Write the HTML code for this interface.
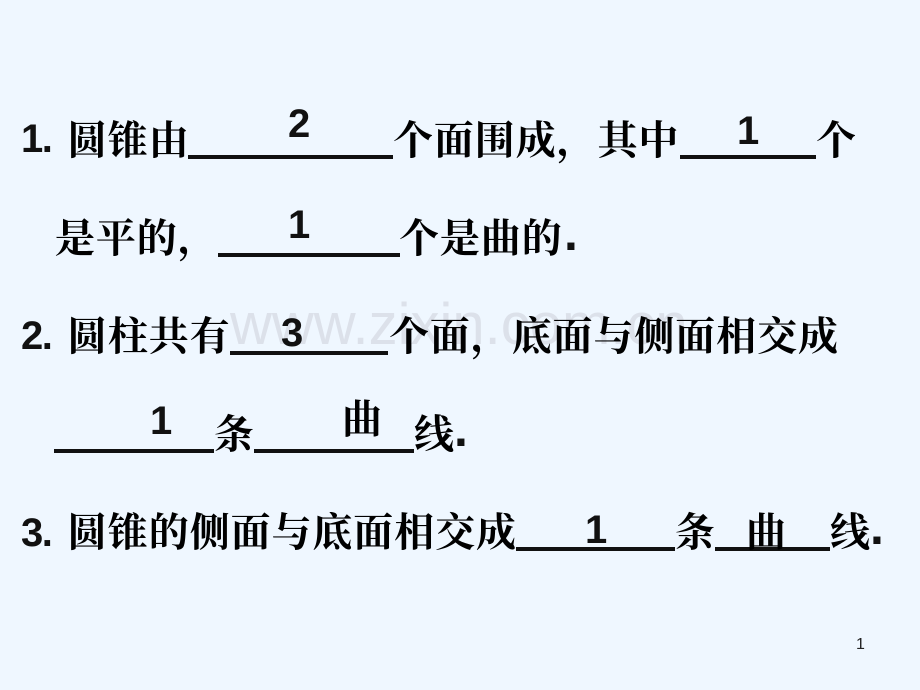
<!DOCTYPE html>
<html><head><meta charset="utf-8">
<style>
html,body{margin:0;padding:0}
#s{position:relative;width:920px;height:690px;background:#eff7ff;overflow:hidden}
.c{position:absolute;font:700 40px/40px "Noto Serif CJK SC",serif;color:#000;white-space:nowrap;letter-spacing:.9px}
.b{position:absolute;font:bold 40px/40px "Liberation Sans",sans-serif;color:#111;white-space:nowrap}
.p{letter-spacing:-1.5px}
.d{font-size:50px}
.l{position:absolute;height:4px;background:#111}
#w{position:absolute;left:230px;top:296px;font:58px/58px "Liberation Sans",sans-serif;color:#dce1ea;white-space:nowrap}
#n{position:absolute;left:856px;top:636px;font:16px/18px "Liberation Sans",sans-serif;color:#222}
</style></head><body><div id="s">
<div id="w">www.zixin.com.cn</div>

<div class="b p" style="left:21px;top:119px">1.</div>
<div class="c" style="left:67px;top:118px">圆锥由</div>
<div class="l" style="left:188px;top:155px;width:205px"></div>
<div class="b" style="left:288px;top:104px">2</div>
<div class="c" style="left:393px;top:118px">个面围成，其中</div>
<div class="l" style="left:680px;top:155px;width:136px"></div>
<div class="b" style="left:737px;top:111px">1</div>
<div class="c" style="left:816px;top:118px">个</div>

<div class="c" style="left:55px;top:216px">是平的，</div>
<div class="l" style="left:218px;top:253px;width:182px"></div>
<div class="b" style="left:288px;top:205px">1</div>
<div class="c" style="left:399px;top:216px">个是曲的</div>
<div class="b d" style="left:564px;top:213px">.</div>

<div class="b p" style="left:21px;top:316px">2.</div>
<div class="c" style="left:67px;top:314px">圆柱共有</div>
<div class="l" style="left:230px;top:351px;width:158px"></div>
<div class="b" style="left:281px;top:313px">3</div>
<div class="c" style="left:389px;top:314px">个面，底面与侧面相交成</div>

<div class="l" style="left:54px;top:449px;width:160px"></div>
<div class="b" style="left:150px;top:401px">1</div>
<div class="c" style="left:214px;top:412px">条</div>
<div class="l" style="left:254px;top:449px;width:160px"></div>
<div class="c" style="left:342px;top:397px">曲</div>
<div class="c" style="left:414px;top:412px">线</div>
<div class="b d" style="left:454px;top:409px">.</div>

<div class="b p" style="left:21px;top:513px">3.</div>
<div class="c" style="left:67px;top:510px">圆锥的侧面与底面相交成</div>
<div class="l" style="left:516px;top:547px;width:159px"></div>
<div class="b" style="left:585px;top:510px">1</div>
<div class="c" style="left:675px;top:510px">条</div>
<div class="l" style="left:715px;top:547px;width:115px"></div>
<div class="c" style="left:746px;top:510px">曲</div>
<div class="c" style="left:830px;top:510px">线</div>
<div class="b d" style="left:870px;top:507px">.</div>

<div id="n">1</div>
</div></body></html>
